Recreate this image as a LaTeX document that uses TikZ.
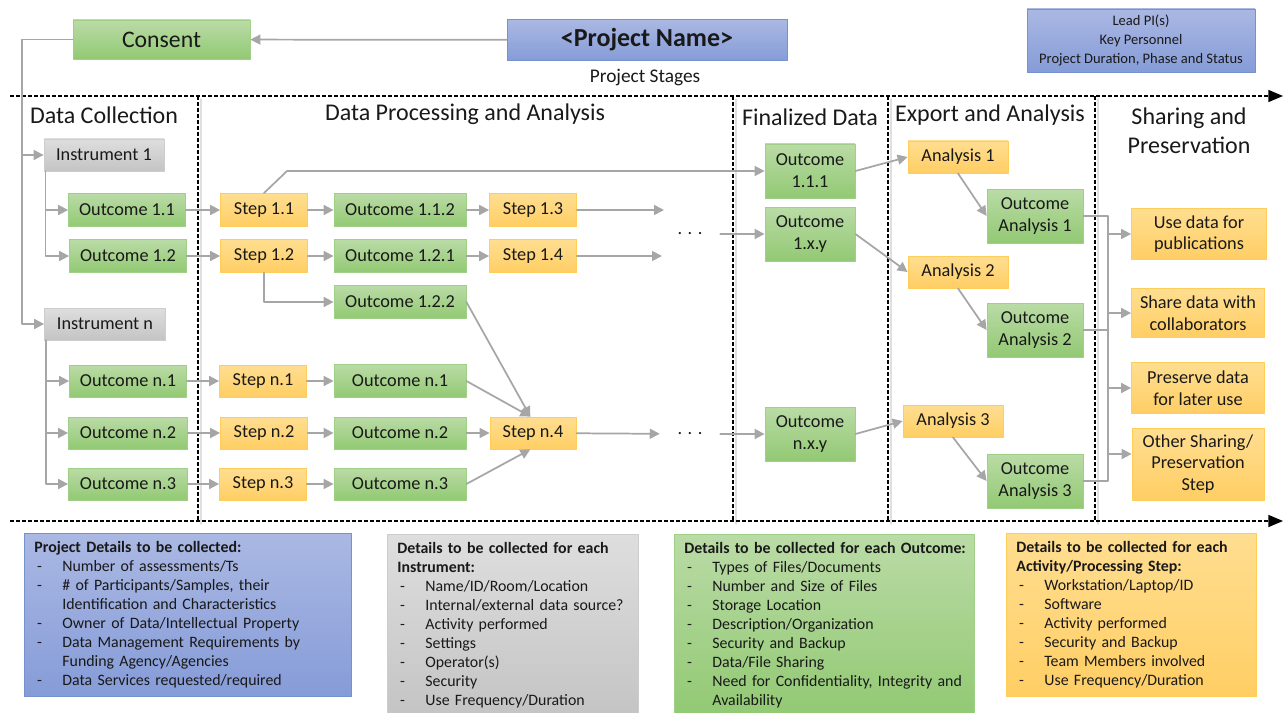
\documentclass[tikz,border=0pt]{standalone}
\usepackage{fontspec}
\setmainfont{Carlito}
\usepackage{tikz}
\usetikzlibrary{arrows.meta,calc}
\definecolor{grnTop}{RGB}{186,219,166}
\definecolor{grnBot}{RGB}{146,201,115}
\definecolor{grnLine}{RGB}{160,208,135}
\definecolor{ornTop}{RGB}{255,222,145}
\definecolor{ornBot}{RGB}{255,206,100}
\definecolor{ornLine}{RGB}{255,205,90}
\definecolor{gryTop}{RGB}{222,222,222}
\definecolor{gryBot}{RGB}{196,196,196}
\definecolor{gryLine}{RGB}{205,205,205}
\definecolor{bluTop}{RGB}{170,184,227}
\definecolor{bluBot}{RGB}{134,156,216}
\definecolor{bluLine}{RGB}{118,146,206}
\definecolor{arr}{RGB}{166,166,166}
\definecolor{txt}{RGB}{25,25,25}
\newcommand{\dl}[1]{\mbox{\makebox[21pt][l]{\hspace{2pt}-}#1}}
\newcommand{\dc}[1]{\mbox{\hspace*{21pt}#1}}
\newcommand{\dhead}[1]{\mbox{\textbf{#1}}}

\begin{document}
\begin{tikzpicture}[line cap=round,line join=round,x=0.75pt,y=-0.75pt,
    flowbox/.style={draw,line width=0.6pt,inner sep=0pt,align=center,text=txt,font=\fontsize{13.7}{16.3}\selectfont},
    boxsize/.style 2 args={minimum width=#1*0.75pt,minimum height=#2*0.75pt},
    grnbox/.style={flowbox,draw=grnLine,top color=grnTop,bottom color=grnBot},
    ornbox/.style={flowbox,draw=ornLine,top color=ornTop,bottom color=ornBot},
    grybox/.style={flowbox,draw=gryLine,top color=gryTop,bottom color=gryBot},
    blubox/.style={flowbox,draw=bluLine,top color=bluTop,bottom color=bluBot},
    detailbox/.style={draw,line width=0.6pt,anchor=north west,align=left,inner xsep=7.5pt,inner ysep=6pt,text=txt,font=\fontsize{11.9}{14.25}\selectfont},
    stagehead/.style={text=txt,align=center,font=\fontsize{18}{21.75}\selectfont},
    dotsnode/.style={text=txt,minimum width=60*0.75pt,inner sep=0pt,font=\fontsize{13.7}{16}\selectfont},
    conn/.style={draw=arr,line width=1.3pt,-{Triangle[length=7.5pt,width=7.5pt]}},
    wire/.style={draw=arr,line width=1.3pt},
    stage/.style={black,line width=1.1pt,dash pattern=on 3pt off 1.5pt,line cap=butt},
    shade/.style={black!12,line width=1.2pt}]
\useasboundingbox (0,0) rectangle (1284,713);

\draw[shade] (201,99) -- (201,524);
\draw[shade] (736,99) -- (736,524);
\draw[shade] (891,99) -- (891,524);
\draw[shade] (1098,99) -- (1098,524);
\draw[stage] (198,96) -- (198,521);
\draw[stage] (733,96) -- (733,521);
\draw[stage] (888,96) -- (888,521);
\draw[stage] (1095,96) -- (1095,521);
\draw[stage,-{Triangle[length=11pt,width=9pt]}] (10,96) -- (1283,96);
\draw[stage,-{Triangle[length=11pt,width=9pt]}] (10,521) -- (1283,521);

\node[grnbox,boxsize={177}{39},font=\fontsize{17.8}{20}\selectfont] (consent) at (161.5,39.5) {Consent};
\node[blubox,boxsize={280}{41},font=\bfseries\fontsize{19.5}{22}\selectfont] (pname) at (647,40) {<Project Name>};
\node[blubox,boxsize={228}{63},font=\fontsize{10.9}{14.25}\selectfont] (lead) at (1141,40.5) {Lead PI(s)\\Key Personnel\\Project Duration, Phase and Status};
\node[text=txt,font=\fontsize{14.5}{17}\selectfont] (stages) at (645,78) {Project Stages};

\node[stagehead] (hcoll) at (104,115) {Data Collection};
\node[stagehead] (hproc) at (465,114) {Data Processing and Analysis};
\node[stagehead] (hfin) at (810,117) {Finalized Data};
\node[stagehead] (hexp) at (990,115) {Export and Analysis};
\node[stagehead] (hshare) at (1189,131) {Sharing and\\Preservation};

\node[grybox,boxsize={120}{32}] (inst1) at (104,155) {Instrument 1};
\node[grnbox,boxsize={117}{33}] (o11) at (127,210) {Outcome 1.1};
\node[grnbox,boxsize={117}{33}] (o12) at (128,256) {Outcome 1.2};
\node[grybox,boxsize={121}{32}] (instn) at (105,324) {Instrument n};
\node[grnbox,boxsize={117}{32}] (on1) at (128,381) {Outcome n.1};
\node[grnbox,boxsize={119}{32}] (on2) at (128,433) {Outcome n.2};
\node[grnbox,boxsize={119}{32}] (on3) at (128,484) {Outcome n.3};

\node[ornbox,boxsize={87}{33}] (s11) at (264,210) {Step 1.1};
\node[ornbox,boxsize={87}{33}] (s12) at (264,256) {Step 1.2};
\node[ornbox,boxsize={87}{32}] (sn1) at (263,381) {Step n.1};
\node[ornbox,boxsize={87}{32}] (sn2) at (264,433) {Step n.2};
\node[ornbox,boxsize={87}{32}] (sn3) at (263,484) {Step n.3};

\node[grnbox,boxsize={132}{33}] (o112) at (400,210) {Outcome 1.1.2};
\node[grnbox,boxsize={132}{33}] (o121) at (400,256) {Outcome 1.2.1};
\node[grnbox,boxsize={132}{33}] (o122) at (400,302) {Outcome 1.2.2};
\node[grnbox,boxsize={132}{33}] (on1b) at (400,381) {Outcome n.1};
\node[grnbox,boxsize={132}{32}] (on2b) at (400,433) {Outcome n.2};
\node[grnbox,boxsize={132}{32}] (on3b) at (400,484) {Outcome n.3};

\node[ornbox,boxsize={87}{33}] (s13) at (533,210) {Step 1.3};
\node[ornbox,boxsize={87}{33}] (s14) at (533,256) {Step 1.4};
\node[ornbox,boxsize={86}{32}] (sn4) at (533,433) {Step n.4};
\node[dotsnode] (dots1) at (690,234) {. . .};
\node[dotsnode] (dotsn) at (690,434) {. . .};

\node[grnbox,boxsize={90}{54}] (o111) at (810,171) {Outcome\\1.1.1};
\node[grnbox,boxsize={90}{54}] (o1xy) at (810,234) {Outcome\\1.x.y};
\node[grnbox,boxsize={90}{54}] (onxy) at (810,434) {Outcome\\n.x.y};

\node[ornbox,boxsize={100}{32}] (a1) at (958,157) {Analysis 1};
\node[ornbox,boxsize={100}{32}] (a2) at (958,272) {Analysis 2};
\node[ornbox,boxsize={100}{32}] (a3) at (953,421) {Analysis 3};
\node[grnbox,boxsize={96}{54}] (oa1) at (1035,216) {Outcome\\Analysis 1};
\node[grnbox,boxsize={96}{54}] (oa2) at (1035,330) {Outcome\\Analysis 2};
\node[grnbox,boxsize={96}{54}] (oa3) at (1035,481) {Outcome\\Analysis 3};

\node[ornbox,boxsize={135}{51}] (pub) at (1199,234) {Use data for\\publications};
\node[ornbox,boxsize={133}{49}] (collab) at (1198,313) {Share data with\\collaborators};
\node[ornbox,boxsize={133}{51}] (preserve) at (1198,388) {Preserve data\\for later use};
\node[ornbox,boxsize={132}{72}] (other) at (1198,464) {Other Sharing/\\Preservation\\Step};

\coordinate (trunk) at (22,0);
\coordinate (bus) at (1108,0);
\coordinate (bend) at (287,171);
\coordinate (end13) at (664,210);
\coordinate (end14) at (662,256);

\draw[conn] (pname) -- (consent);
\draw[conn] (consent.west) -| (trunk |- instn) -- (instn);
\draw[conn] (trunk |- inst1) -- (inst1);
\draw[conn] ([xshift=1.5pt]inst1.south west) |- (o11);
\draw[conn] ([xshift=1.5pt]inst1.south west) |- (o12);
\draw[conn] ([xshift=1.5pt]instn.south west) |- (on1);
\draw[conn] ([xshift=1.5pt]instn.south west) |- (on2);
\draw[conn] ([xshift=1.5pt]instn.south west) |- (on3);

\draw[conn] (o11) -- (s11);
\draw[conn] (o12) -- (s12);
\draw[conn] (on1) -- (sn1);
\draw[conn] (on2) -- (sn2);
\draw[conn] (on3) -- (sn3);
\draw[conn] (s11) -- (o112);
\draw[conn] (s12) -- (o121);
\draw[conn] (s12) |- (o122);
\draw[conn] (sn1) -- (on1b);
\draw[conn] (sn2) -- (on2b);
\draw[conn] (sn3) -- (on3b);
\draw[conn] (o112) -- (s13);
\draw[conn] (o121) -- (s14);
\draw[conn] (on2b) -- (sn4);
\draw[conn] (o122.east) -- ([xshift=-2pt]sn4.north);
\draw[conn] (on1b.east) -- ([xshift=-2pt]sn4.north);
\draw[conn] (on3b.east) -- ([xshift=-2pt]sn4.south);
\draw[conn] (s11.north) -- (bend) -- (o111);
\draw[conn] (s13) -- (end13);
\draw[conn] (s14) -- (end14);
\draw[conn] (sn4) -- (dotsn);
\draw[conn] (dots1) -- (o1xy);
\draw[conn] (dotsn) -- (onxy);

\draw[conn] (o111.east) -- (a1.west);
\draw[conn] (o1xy.east) -- (a2.west);
\draw[conn] (onxy.east) -- (a3.west);
\draw[conn] (a1.south) -- (oa1.west);
\draw[conn] (a2.south) -- (oa2.west);
\draw[conn] (a3.south) -- (oa3.west);

\draw[wire] (oa1.east) -- (bus |- oa1.east) -- (bus |- oa3.east) -- (oa3.east);
\draw[wire] (oa2.east) -- (bus |- oa2.east);
\draw[conn] (bus |- pub.west) -- (pub.west);
\draw[conn] (bus |- collab.west) -- (collab.west);
\draw[conn] (bus |- preserve.west) -- (preserve.west);
\draw[conn] ($(bus |- other.west)+(0,-10)$) -- ($(other.west)+(0,-10)$);

\node[detailbox,draw=bluLine,top color=bluTop,bottom color=bluBot,text width=230.25pt] (projdet) at (24,533) {\dhead{Project Details to be collected:}\\
\dl{Number of assessments/Ts}\\
\dl{\# of Participants/Samples, their}\\
\dc{Identification and Characteristics}\\
\dl{Owner of Data/Intellectual Property}\\
\dl{Data Management Requirements by}\\
\dc{Funding Agency/Agencies}\\
\dl{Data Services requested/required}};
\node[detailbox,draw=gryLine,top color=gryTop,bottom color=gryBot,text width=173.25pt] (instdet) at (387,534) {\dhead{Details to be collected for each}\\
\dhead{Instrument:}\\
\dl{Name/ID/Room/Location}\\
\dl{Internal/external data source?}\\
\dl{Activity performed}\\
\dl{Settings}\\
\dl{Operator(s)}\\
\dl{Security}\\
\dl{Use Frequency/Duration}};
\node[detailbox,draw=grnLine,top color=grnTop,bottom color=grnBot,text width=210pt] (outdet) at (674,534) {\dhead{Details to be collected for each Outcome:}\\
\dl{Types of Files/Documents}\\
\dl{Number and Size of Files}\\
\dl{Storage Location}\\
\dl{Description/Organization}\\
\dl{Security and Backup}\\
\dl{Data/File Sharing}\\
\dl{Need for Confidentiality, Integrity and}\\
\dc{Availability}};
\node[detailbox,draw=ornLine,top color=ornTop,bottom color=ornBot,text width=172.5pt] (stepdet) at (1006,533) {\dhead{Details to be collected for each}\\
\dhead{Activity/Processing Step:}\\
\dl{Workstation/Laptop/ID}\\
\dl{Software}\\
\dl{Activity performed}\\
\dl{Security and Backup}\\
\dl{Team Members involved}\\
\dl{Use Frequency/Duration}};
\end{tikzpicture}
\end{document}
